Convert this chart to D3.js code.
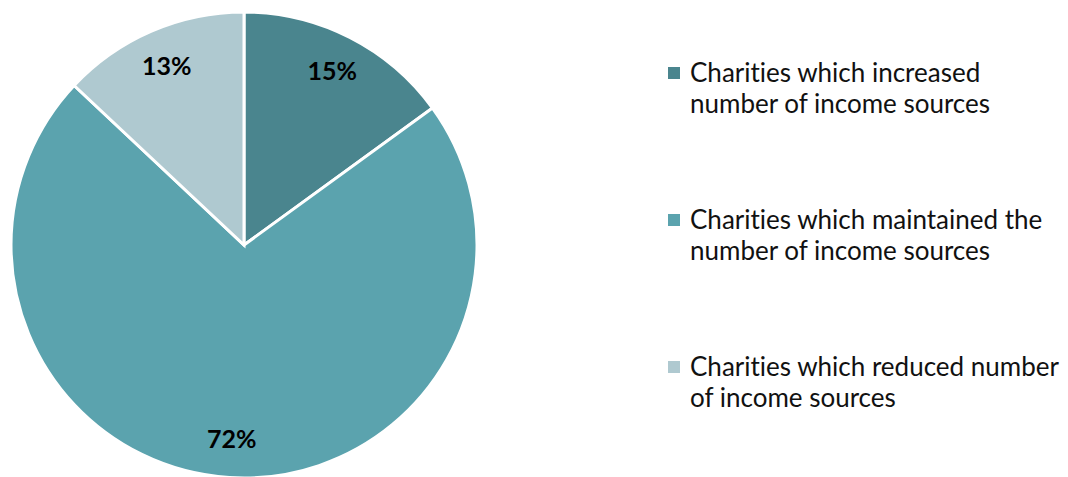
<!DOCTYPE html>
<html>
<head>
<meta charset="utf-8">
<script src="https://cdn.jsdelivr.net/npm/d3@7"></script>
<style>
  html, body { margin: 0; padding: 0; background: #fff; }
  svg { display: block; }
  text { font-variant-ligatures: none; font-feature-settings: "liga" 0; }
</style>
</head>
<body>
<svg id="chart" width="1068" height="477"></svg>
<script>
const categories = [
  "Charities which increased number of income sources",
  "Charities which maintained the number of income sources",
  "Charities which reduced number of income sources"
];
const legendLines = [
  ["Charities which increased", "number of income sources"],
  ["Charities which maintained the", "number of income sources"],
  ["Charities which reduced number", "of income sources"]
];
const values = [15, 72, 13];
const colors = ["#4a858e", "#5ba3ae", "#afc9d0"];

const svg = d3.select("#chart");
const cx = 244, cy = 245, radius = 233;
const font = "Lato, 'Open Sans', 'Liberation Sans', sans-serif";

const pie = d3.pie().sort(null).value(d => d);
const arcs = pie(values);
const arc = d3.arc().innerRadius(0).outerRadius(radius);
const labelArc = d3.arc().innerRadius(radius * 0.835).outerRadius(radius * 0.835);

const g = svg.append("g").attr("transform", `translate(${cx},${cy})`);

g.selectAll("path.slice")
  .data(arcs)
  .join("path")
  .attr("class", "slice")
  .attr("d", arc)
  .attr("fill", (d, i) => colors[i])
  .attr("stroke", "#fff")
  .attr("stroke-width", 3)
  .attr("stroke-linejoin", "miter");

g.selectAll("text.pct")
  .data(arcs)
  .join("text")
  .attr("class", "pct")
  .attr("transform", d => {
    const [x, y] = labelArc.centroid(d);
    return `translate(${x},${y})`;
  })
  .attr("text-anchor", "middle")
  .attr("dy", "0.35em")
  .attr("font-family", font)
  .attr("font-weight", "bold")
  .attr("font-size", 25)
  .attr("fill", "#000")
  .text(d => d.data + "%");

// Legend
const legendX = 668, legendY0 = 73, legendStep = 147, lineGap = 31;
const legend = svg.append("g");
const items = legend.selectAll("g.item")
  .data(categories)
  .join("g")
  .attr("class", "item")
  .attr("transform", (d, i) => `translate(${legendX},${legendY0 + i * legendStep})`);

items.append("rect")
  .attr("x", 0)
  .attr("y", -6)
  .attr("width", 12)
  .attr("height", 12)
  .attr("fill", (d, i) => colors[i]);

items.each(function (d, i) {
  const t = d3.select(this).append("text")
    .attr("font-family", font)
    .attr("font-size", 26)
    .attr("fill", "#111");
  legendLines[i].forEach((line, j) => {
    t.append("tspan")
      .attr("x", 22)
      .attr("y", j * lineGap)
      .attr("dy", "0.35em")
      .text(line);
  });
});
</script>
</body>
</html>
